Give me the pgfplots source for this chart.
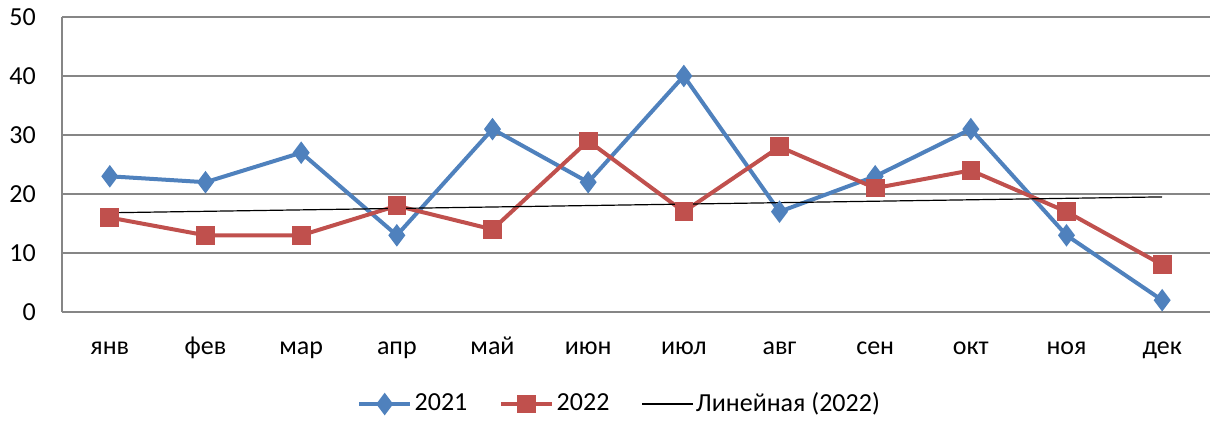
\documentclass[border=0pt]{standalone}
\usepackage{pgfplots}
\pgfplotsset{compat=1.18}
\usepackage{fontspec}
\setmainfont{Carlito}
\definecolor{blue21}{HTML}{4F81BD}
\definecolor{red22}{HTML}{C0504D}
\definecolor{gridgray}{HTML}{868686}
\begin{document}
\fontsize{19.5}{23}\selectfont
\begin{tikzpicture}
\begin{axis}[
  scale only axis,
  width=861pt, height=221.25pt,
  xmin=0.5, xmax=12.5,
  ymin=0, ymax=50,
  ytick={0,10,20,30,40,50},
  xtick={1,...,12},
  xticklabels={янв,фев,мар,апр,май,июн,июл,авг,сен,окт,ноя,дек},
  major tick length=0pt,
  axis x line*=bottom, axis y line*=left,
  axis line style={gridgray, line width=1pt, -},
  ymajorgrids,
  grid style={gridgray, line width=1pt},
  tick label style={font=\fontsize{19.5}{23}\selectfont},
  /pgf/number format/assume math mode=true,
  yticklabel style={xshift=-13pt},
  xticklabel style={anchor=base, yshift=-32pt},
  legend style={draw=none, fill=none, at={(0.486,-0.312)}, anchor=center,
    legend columns=3, font=\fontsize{19.5}{23}\selectfont,
    /tikz/every even column/.append style={column sep=22pt}},
  legend image code/.code={\draw[#1, mark repeat=2, mark phase=2] plot coordinates {(0pt,0pt) (19pt,0pt) (38pt,0pt)};},
]
\addplot[blue21, line width=3pt, mark=diamond*, mark size=6pt, mark options={solid, fill=blue21}]
  coordinates {(1,23)(2,22)(3,27)(4,13)(5,31)(6,22)(7,40)(8,17)(9,23)(10,31)(11,13)(12,2)};
\addlegendentry{2021}
\addplot[red22, line width=3pt, mark=square*, mark size=5.5pt, mark options={solid, fill=red22}]
  coordinates {(1,16)(2,13)(3,13)(4,18)(5,14)(6,29)(7,17)(8,28)(9,21)(10,24)(11,17)(12,8)};
\addlegendentry{2022}
\addplot[black, line width=0.9pt, mark=none]
  coordinates {(1,16.82)(12,19.51)};
\addlegendentry{Линейная (2022)}
\end{axis}
\pgfresetboundingbox
\path ([xshift=-46.5pt,yshift=-81.75pt]current axis.south west) rectangle ([xshift=3pt,yshift=12.75pt]current axis.north east);
\end{tikzpicture}
\end{document}
